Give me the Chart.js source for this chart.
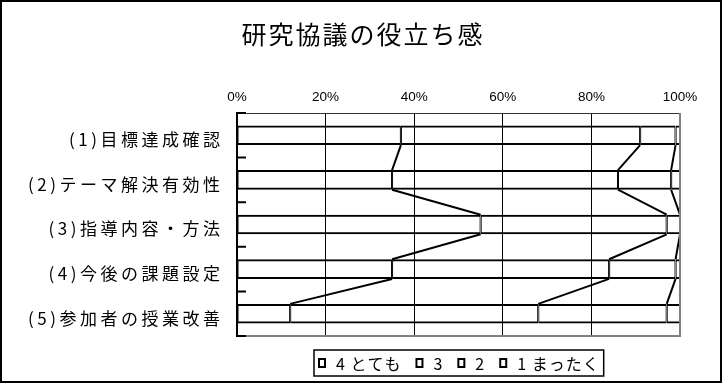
<!DOCTYPE html>
<html>
<head>
<meta charset="utf-8">
<script src="https://cdn.jsdelivr.net/npm/chart.js@4.4.0/dist/chart.umd.min.js"></script>
<style>
  html, body { margin: 0; padding: 0; background: #fff; }
  #wrap { width: 722px; height: 383px; }
</style>
</head>
<body>
<div id="wrap"><canvas id="chart" width="722" height="383"></canvas></div>
<script>
// chart values
const chartTitle = '研究協議の役立ち感';
const categories = ['(1)目標達成確認', '(2)テーマ解決有効性', '(3)指導内容・方法', '(4)今後の課題設定', '(5)参加者の授業改善'];
const seriesNames = ['4 とても', '3', '2', '1 まったく'];
const totally = [37, 35, 55, 35, 12];   // 4 とても
const rather = [54, 51, 42, 49, 56];    // 3
const little = [8, 12, 3, 15, 29];      // 2
const notAtAll = [1, 2, 0, 1, 3];       // 1 まったく
const tickValues = [0, 20, 40, 60, 80, 100];

const CJK = '"Noto Sans CJK JP", "Noto Sans", sans-serif';
const LATIN = '"Liberation Sans", Arial, sans-serif';

function makeSet(label, values) {
    return {
        label: label,
        data: values,
        backgroundColor: 'rgba(255,255,255,0)',
        borderColor: '#000',
        borderWidth: { top: 2, bottom: 2, left: 1, right: 1 },
        borderSkipped: false,
        barPercentage: 0.44,
        categoryPercentage: 1.0
    };
}

// category labels with wide Excel-like spacing
const categoryLabels = {
    id: 'categoryLabels',
    afterDraw(chart) {
        const c = chart.ctx;
        const y = chart.scales.y;
        c.save();
        c.font = '17px ' + CJK;
        c.letterSpacing = '3.5px';
        c.fillStyle = '#000';
        c.textAlign = 'right';
        c.textBaseline = 'middle';
        chart.data.labels.forEach(function(lab, i) {
            c.fillText(lab, 223.5, y.getPixelForValue(i) + 4.5);
        });
        c.restore();
    }
};

const titleText = {
    id: 'titleText',
    afterDraw(chart) {
        const c = chart.ctx;
        c.save();
        c.font = '25px ' + CJK;
        c.letterSpacing = '2px';
        c.fillStyle = '#000';
        c.textAlign = 'center';
        c.textBaseline = 'middle';
        c.fillText(chartTitle, 363, 34);
        c.restore();
    }
};

// Excel style series lines between stacked bars
const seriesLines = {
    id: 'seriesLines',
    afterDatasetsDraw(chart) {
        const c = chart.ctx;
        c.save();
        c.strokeStyle = '#000';
        c.lineWidth = 2;
        for (let d = 0; d < chart.data.datasets.length - 1; d++) {
            const bars = chart.getDatasetMeta(d).data;
            c.beginPath();
            for (let j = 0; j < bars.length - 1; j++) {
                const a = bars[j], b = bars[j + 1];
                c.moveTo(a.x, a.y + a.height / 2);
                c.lineTo(b.x, b.y - b.height / 2);
            }
            c.stroke();
        }
        c.restore();
    }
};

const frameAndTicks = {
    id: 'frameAndTicks',
    afterDatasetsDraw(chart) {
        const c = chart.ctx, a = chart.chartArea, y = chart.scales.y;
        c.save();
        // plot area right / bottom edge
        c.strokeStyle = '#808080';
        c.lineWidth = 2;
        c.beginPath();
        c.moveTo(a.right, a.top);
        c.lineTo(a.right, a.bottom);
        c.lineTo(a.left, a.bottom);
        c.stroke();
        // tick marks on the category axis, pointing inward
        c.strokeStyle = '#000';
        c.beginPath();
        const n = chart.data.labels.length;
        for (let i = 0; i <= n; i++) {
            const py = (y.getPixelForValue(i - 1) + y.getPixelForValue(i)) / 2;
            c.moveTo(a.left, py);
            c.lineTo(a.left + 9, py);
        }
        c.stroke();
        c.restore();
    }
};

const legendBox = {
    id: 'legendBox',
    afterDraw(chart) {
        const c = chart.ctx, a = chart.chartArea;
        c.save();
        c.font = '16px ' + CJK;
        c.letterSpacing = '1px';
        c.textBaseline = 'middle';
        c.textAlign = 'left';
        const box = 8, gapBT = 10, gapItem = 14, padX = 4;
        const items = chart.data.datasets.map(function(ds) {
            return { text: ds.label, w: c.measureText(ds.label).width };
        });
        let total = padX * 2 + gapItem * (items.length - 1);
        items.forEach(function(it) { total += box + gapBT + it.w; });
        const left = Math.round((a.left + a.right) / 2 - total / 2);
        const top = a.bottom + 14, h = 26;
        c.strokeStyle = '#000';
        c.lineWidth = 1.5;
        c.strokeRect(left, top, total, h);
        let x = left + padX;
        const cy = top + h / 2;
        items.forEach(function(it) {
            c.lineWidth = 2;
            c.strokeRect(x + 1, cy - box / 2, box - 2, box);
            x += box + gapBT;
            c.fillStyle = '#000';
            c.fillText(it.text, x, cy + 1);
            x += it.w + gapItem;
        });
        // outer chart border
        c.lineWidth = 2;
        c.strokeRect(1, 1, 720, 381);
        c.restore();
    }
};

const ctx = document.getElementById('chart').getContext('2d');
new Chart(ctx, {
    type: 'bar',
    data: {
        labels: categories,
        datasets: [
            makeSet(seriesNames[0], totally),
            makeSet(seriesNames[1], rather),
            makeSet(seriesNames[2], little),
            makeSet(seriesNames[3], notAtAll)
        ]
    },
    options: {
        indexAxis: 'y',
        responsive: false,
        animation: false,
        devicePixelRatio: 1,
        layout: { padding: { left: 0, right: 42, top: 0, bottom: 47 } },
        plugins: {
            legend: { display: false },
            title: { display: false },
            tooltip: { enabled: false }
        },
        scales: {
            x: {
                position: 'top',
                stacked: true,
                min: 0,
                max: 100,
                afterBuildTicks: function(scale) {
                    scale.ticks = tickValues.map(function(v) { return { value: v }; });
                },
                ticks: {
                    callback: function(v) { return v + '%'; },
                    color: '#000',
                    font: { family: LATIN, size: 13.5 },
                    padding: 8,
                    maxRotation: 0
                },
                grid: { color: '#000', lineWidth: 1, drawTicks: false },
                border: { display: true, color: '#333', width: 1 },
                afterFit: function(scale) { scale.height = 113; }
            },
            y: {
                stacked: true,
                ticks: { display: false },
                grid: { display: false },
                border: { display: true, color: '#000', width: 2 },
                afterFit: function(scale) { scale.width = 237; }
            }
        }
    },
    plugins: [seriesLines, frameAndTicks, categoryLabels, titleText, legendBox]
});
</script>
</body>
</html>
